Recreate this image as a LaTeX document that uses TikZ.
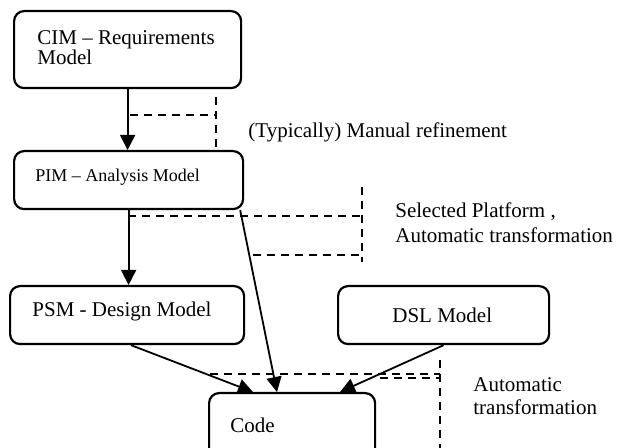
\documentclass[tikz,border=0pt]{standalone}
\usepackage{fontspec}
\setmainfont{Liberation Serif}
\usetikzlibrary{positioning,arrows.meta}
\tikzset{
	model/.style = {shape=rectangle, draw, anchor=north west,
		rounded corners=5pt, line width=1.1pt, inner sep=0pt},
	caption/.style = {anchor=base west, align=left, inner sep=0pt,
		font=\fontsize{10.5}{12.5}\selectfont},
	flow/.style = {draw, line width=0.9pt,
		-{Triangle[length=7.5pt,width=7.5pt]}},
	bound/.style = {draw, line width=1pt, dash pattern=on 4pt off 3pt}
}

\begin{document}
\begin{tikzpicture}[x=0.5pt, y=-0.5pt]
\clip (0,0) rectangle (617,448);

% boxes
\node [model, minimum width=113.5pt, minimum height=38.5pt] (cim) at (13,10) {};
\node [model, minimum width=114.5pt, minimum height=29pt] (pim) at (13,150) {};
\node [model, minimum width=117pt, minimum height=29pt] (psm) at (9,285) {};
\node [model, minimum width=105.5pt, minimum height=29pt] (dsl) at (337,285) {};
\node [model, minimum width=83pt, minimum height=36pt] (code) at (208,392) {};

% box texts (base = last line)
\node [caption, font=\fontsize{10.5}{10}\selectfont] (cimtext) at (37,65) {CIM -- Requirements\\Model};
\node [caption, font=\fontsize{9}{11}\selectfont] (pimtext) at (35,182) {PIM -- Analysis Model};
\node [caption] (psmtext) at (32,317) {PSM - Design Model};
\node [caption] (dsltext) at (392,323) {DSL Model};
\node [caption] (codetext) at (230,433) {Code};

% side texts
\node [caption] (manual) at (248,138) {(Typically) Manual refinement};
\node [caption] (platform) at (395,243) {Selected Platform ,\\Automatic transformation};
\node [caption, font=\fontsize{10.5}{11.5}\selectfont] (auto) at (473,415) {Automatic\\transformation};

% transformations
\draw [flow] (cim.south) -- (cim.south |- pim.north);
\draw [flow] (pim.south) -- (pim.south |- psm.north);
\draw [flow] ([xshift=-2pt]pim.south east) -- ([xshift=34.5pt]code.north west);
\draw [flow] ([xshift=2pt]psm.south) -- ([xshift=22.5pt]code.north west);
\draw [flow] (dsl.south) -- ([xshift=66pt]code.north west);

% dashed brackets
\coordinate (m1) at (130,115);
\coordinate (m2) at (216,97);
\coordinate (m3) at (216,147);
\draw [bound] (m1) -- (m1 -| m2);
\draw [bound] (m2) -- (m3);

\coordinate (p1) at (128,216);
\coordinate (p2) at (253,255);
\coordinate (p3) at (362,187);
\coordinate (p4) at (362,262);
\draw [bound] (p1) -- (p1 -| p3);
\draw [bound] (p2) -- (p2 -| p3);
\draw [bound] (p3) -- (p4);

\coordinate (a1) at (210,374);
\coordinate (a2) at (380,378);
\coordinate (a3) at (440,360);
\coordinate (a4) at (440,448);
\draw [bound] (a1) -- (a1 -| a3);
\draw [bound] (a2) -- (a2 -| a3);
\draw [bound] (a3) -- (a4);
\end{tikzpicture}
\end{document}
